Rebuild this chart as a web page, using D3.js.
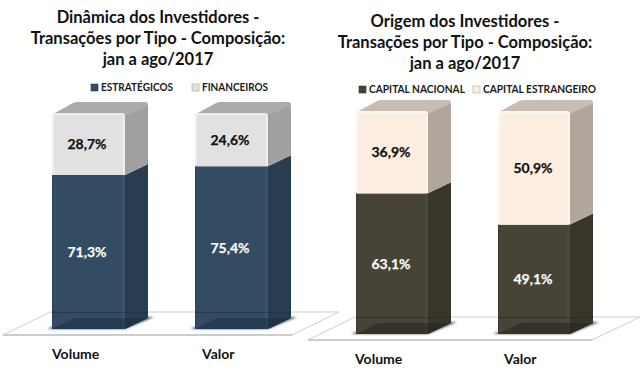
<!DOCTYPE html>
<html><head><meta charset="utf-8">
<script src="https://cdn.jsdelivr.net/npm/d3@7"></script>
<style>html,body{margin:0;background:#fff}svg{display:block}text{font-family:Lato,"Open Sans",sans-serif;font-weight:700}</style>
</head><body><svg id="c" width="640" height="380"></svg>
<script>
const categories = ["Volume", "Valor"];
const leftTitle = ["Dinâmica dos Investidores -", "Transações por Tipo - Composição:", "jan a ago/2017"];
const rightTitle = ["Origem dos Investidores -", "Transações por Tipo - Composição:", "jan a ago/2017"];
const leftSeriesNames = ["ESTRATÉGICOS", "FINANCEIROS"];
const rightSeriesNames = ["CAPITAL NACIONAL", "CAPITAL ESTRANGEIRO"];
const estrategicos = [71.3, 75.4];
const financeiros = [28.7, 24.6];
const capitalNacional = [63.1, 49.1];
const capitalEstrangeiro = [36.9, 50.9];

const svg = d3.select("#c");
const defs = svg.append("defs");
const glow = defs.append("filter").attr("id","glow").attr("x","-20%").attr("y","-20%").attr("width","140%").attr("height","140%");
glow.append("feGaussianBlur").attr("stdDeviation",0.7);
const soft = defs.append("filter").attr("id","soft").attr("x","-10%").attr("y","-30%").attr("width","120%").attr("height","160%");
soft.append("feGaussianBlur").attr("stdDeviation",0.9);
const fmt = v => v.toFixed(1).replace(".", ",") + "%";

function chart(o){
  const g = svg.append("g");
  const x = d3.scalePoint().domain(categories).range(o.xRange);
  const y = d3.scaleLinear().domain([0,100]).range([o.bottom,o.top]);
  const dx = 23, dy = 11, r = 3;
  const line = d3.line();
  g.append("path").attr("fill","#fff").attr("stroke","#cfcfcf").attr("stroke-width",1).attr("d",line(o.floor));
  g.append("line").attr("x1",o.floor[0][0]).attr("x2",o.floor[1][0]).attr("y1",o.floor[0][1]).attr("y2",o.floor[1][1]).attr("stroke","#c4c4c4").attr("stroke-width",1.5);
  o.title.forEach((t,i)=>g.append("text").attr("x",o.titleX).attr("y",o.titleY[i]).attr("text-anchor","middle")
    .attr("font-size",o.titleSize).attr("fill","#111").text(t));
  o.names.forEach((n,i)=>{
    g.append("rect").attr("x",o.legend[i]-10).attr("y",o.legendY-7).attr("width",7).attr("height",7)
      .attr("fill",o.colors[i].front).attr("stroke",o.colors[i].side).attr("stroke-width",.6);
    g.append("text").attr("x",o.legend[i]).attr("y",o.legendY).attr("font-size",11.5).attr("fill","#1a1a1a")
      .attr("textLength",o.legendW[i]).attr("lengthAdjust","spacingAndGlyphs").text(n);
  });
  const w = o.barW;
  categories.forEach((c,i)=>{
    const x0 = x(c), x1 = x0+w;
    g.append("path").attr("fill",o.colors[0].shadow).attr("filter","url(#soft)")
      .attr("d",line([[x0-5,o.bottom],[x1,o.bottom],[x1+dx+6,o.bottom-dy-1],[x1+dx,o.bottom-dy-1],[x0,o.bottom-2]]));
    let base = 0;
    [o.series[0][i],o.series[1][i]].forEach((v,s)=>{
      const yb = y(base), yt = y(base+v), col = o.colors[s];
      if(s===1){
        g.append("path").attr("fill",col.top).attr("d",
          `M${x0+1},${yt+1}L${x0+dx-2},${yt-dy+1}Q${x0+dx},${yt-dy} ${x0+dx+3},${yt-dy}L${x1+dx-r},${yt-dy}Q${x1+dx},${yt-dy} ${x1+dx},${yt-dy+r}L${x1,x1},${yt+4}Z`);
        g.append("path").attr("fill",col.side).attr("d",line([[x1,yb],[x1+dx,yb-dy],[x1+dx,yt-dy+r],[x1,yt+r]]));
        g.append("path").attr("fill",col.edge).attr("d",
          `M${x0},${yb}V${yt+r}Q${x0},${yt} ${x0+r},${yt}H${x1-r}Q${x1},${yt} ${x1},${yt+r}V${yb}Z`);
        g.append("rect").attr("x",x0+2).attr("y",yt+2).attr("width",w-4).attr("height",yb-yt-2).attr("fill",col.front);
      } else {
        g.append("path").attr("fill",col.side).attr("d",line([[x1,yb],[x1+dx,yb-dy],[x1+dx,yt-dy],[x1,yt]]));
        g.append("rect").attr("x",x0).attr("y",yt).attr("width",w).attr("height",yb-yt).attr("fill",col.front);
        g.append("rect").attr("x",x1-3).attr("y",yt).attr("width",3).attr("height",yb-yt).attr("fill",col.edge);
        g.append("rect").attr("x",x0).attr("y",yt).attr("width",1).attr("height",yb-yt).attr("fill",col.edge2);
      }
      base += v;
    });
    g.append("path").attr("fill",o.colors[0].base)
      .attr("d",line([[x0,o.bottom],[x0+dx,o.bottom-dy],[x1+dx,o.bottom-dy],[x1,o.bottom]]));
    g.append("line").attr("x1",x0).attr("x2",x1+dx).attr("y1",o.floor[3][1]+.5).attr("y2",o.floor[3][1]+.5)
      .attr("stroke",o.colors[0].base).attr("stroke-width",1);
    base = 0;
    [o.series[0][i],o.series[1][i]].forEach((v,s)=>{
      const ym = y(base+v/2)+5, cx = x0+o.labelOff;
      if(s===0) g.append("text").attr("x",cx).attr("y",ym).attr("text-anchor","middle").attr("font-size",14)
        .attr("fill","#111").attr("filter","url(#glow)").text(fmt(v));
      g.append("text").attr("x",cx).attr("y",ym).attr("text-anchor","middle").attr("font-size",14)
        .attr("fill",s===0?"#fff":"#111").attr("stroke",s===0?"#fff":"#111").attr("stroke-width",.25).text(fmt(v));
      base += v;
    });
    g.append("text").attr("x",o.catX[i]).attr("y",o.catY).attr("font-size",14).attr("fill","#111").text(c);
  });
}

chart({
  title:leftTitle,titleX:158,titleY:[23,44,65],titleSize:16.5,
  names:leftSeriesNames,legend:[101,202],legendW:[72,66],legendY:91,
  xRange:[52,195],barW:73,top:113,bottom:329,labelOff:35,
  floor:[[3,335],[292,335],[339,312],[50,312],[3,335]],
  catX:[52,202],catY:359,
  series:[estrategicos,financeiros],
  colors:[
    {front:"#334b63",side:"#2a3c4f",edge:"#3b546d",edge2:"#2a4259",base:"rgba(20,40,60,.45)",shadow:"#4b5c6c"},
    {front:"#e1e1e1",side:"#a0a0a0",edge:"#eeeeee",top:"#ababab"}
  ]
});
chart({
  title:rightTitle,titleX:465,titleY:[27,48,69],titleSize:16.5,
  names:rightSeriesNames,legend:[369,483],legendW:[96,113],legendY:93,
  xRange:[356,498],barW:72,top:111,bottom:334,labelOff:35,
  floor:[[308,340],[592,340],[640,317],[355,317],[308,340]],
  catX:[355,504],catY:364,
  series:[capitalNacional,capitalEstrangeiro],
  colors:[
    {front:"#474337",side:"#38352b",edge:"#4d493d",edge2:"#3d3a2f",base:"rgba(35,32,24,.45)",shadow:"#5e5a4f"},
    {front:"#fdeee2",side:"#b0a69d",edge:"#fff6ee",top:"#c9bdb3"}
  ]
});
</script></body></html>
